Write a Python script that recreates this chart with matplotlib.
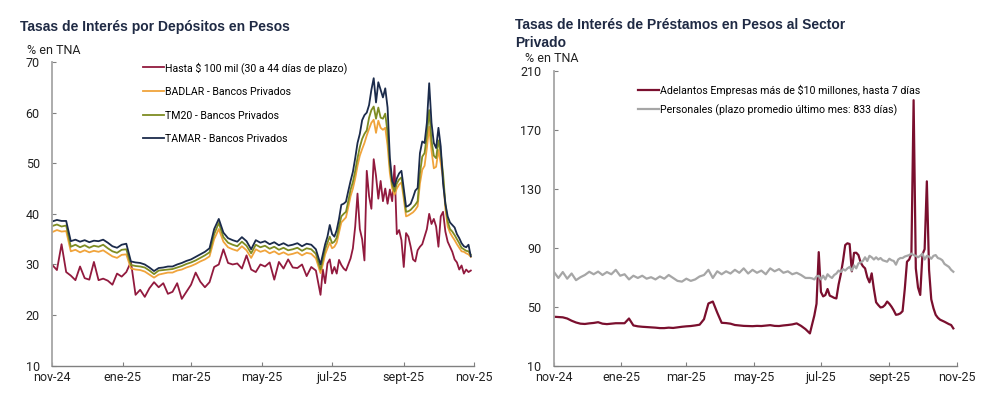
"""Tasas de interés en pesos: depósitos y préstamos al sector privado."""

import matplotlib
matplotlib.use("Agg")
import matplotlib.pyplot as plt
import pandas as pd

plt.rcParams["font.family"] = ["Roboto", "DejaVu Sans"]

# fechas: cada 4 días hasta mediados de junio, luego cada 2 días
DATES = pd.date_range("2024-11-01", periods=58, freq="4D").append(
    pd.date_range("2025-06-21", "2025-10-29", freq="2D")
)

TICK_DATES = pd.to_datetime(
    ["2024-11-01", "2025-01-01", "2025-03-01", "2025-05-01",
     "2025-07-01", "2025-09-01", "2025-11-01"]
)
TICK_LABELS = ["nov-24", "ene-25", "mar-25", "may-25", "jul-25", "sept-25", "nov-25"]

# --- depósitos (% TNA) ---
HASTA_100 = [
    29.9, 28.9, 34.0, 28.5, 27.8, 26.9, 29.6, 27.3, 27.0, 30.5,
    26.9, 27.2, 26.8, 26.0, 28.2, 27.6, 28.5, 30.5, 24.0, 25.0,
    23.6, 25.3, 26.5, 25.5, 26.3, 24.2, 24.6, 26.3, 23.2, 24.6,
    26.0, 28.4, 26.6, 25.5, 26.5, 29.5, 30.0, 33.0, 30.3, 30.0,
    30.2, 29.2, 31.8, 29.0, 28.5, 30.0, 29.6, 30.4, 27.0, 30.5,
    29.2, 31.0, 29.4, 29.3, 30.0, 27.7, 29.5, 28.8,
    24.0, 29.0, 26.3, 30.2, 31.0, 28.2, 29.5, 28.2, 30.9, 29.9,
    29.2, 28.8, 30.0, 31.2, 33.2, 37.5, 44.0, 37.0, 35.0, 30.8,
    48.5, 43.5, 41.0, 50.8, 47.5, 43.0, 46.5, 42.5, 45.0, 42.0,
    44.8, 42.5, 49.5, 36.0, 36.8, 34.8, 29.5, 36.2, 35.5, 33.5,
    31.0, 30.6, 32.8, 33.5, 34.0, 35.5, 37.0, 40.0, 38.0, 39.0,
    37.5, 33.5, 39.5, 40.4, 36.5, 34.5, 33.5, 32.5, 31.0, 30.4,
    29.0, 29.8, 28.2, 29.0, 28.5, 28.8,
]
BADLAR = [
    36.4, 36.8, 36.5, 36.6, 32.6, 32.9, 32.4, 32.8, 32.4, 32.7,
    32.5, 32.8, 32.2, 31.6, 31.3, 31.9, 32.0, 29.2, 29.0, 28.9,
    28.6, 28.0, 27.4, 28.0, 28.2, 28.4, 28.4, 28.8, 29.0, 29.4,
    29.7, 30.1, 30.6, 31.0, 31.6, 35.0, 37.0, 34.5, 33.4, 33.0,
    32.7, 33.6, 32.8, 31.3, 33.0, 32.5, 32.8, 32.2, 32.6, 32.0,
    32.4, 31.9, 32.1, 32.4, 31.8, 32.3, 32.1, 31.2,
    28.3, 30.0, 32.0, 33.2, 34.3, 33.2, 33.5, 34.3, 36.3, 38.3,
    38.8, 39.3, 41.3, 43.5, 45.0, 47.0, 49.5, 51.5, 52.8, 54.0,
    55.5, 56.8, 58.0, 58.6, 56.0, 58.4, 57.0, 56.6, 57.0, 53.5,
    48.0, 45.0, 43.8, 45.0, 45.8, 46.2, 43.0, 39.5, 39.7, 40.0,
    40.3, 40.8, 41.5, 46.0, 48.7, 49.5, 53.0, 57.2, 52.5, 49.0,
    49.3, 52.6, 50.0, 47.0, 41.0, 37.5, 36.3, 35.5, 34.8, 34.0,
    33.3, 32.6, 32.5, 32.2, 32.0, 31.5,
]
TM20 = [
    37.6, 37.9, 37.5, 37.7, 33.5, 33.9, 33.4, 33.8, 33.3, 33.7,
    33.5, 33.9, 33.2, 32.6, 32.3, 32.9, 33.0, 29.9, 29.7, 29.6,
    29.4, 28.8, 28.1, 28.8, 28.9, 29.0, 29.1, 29.4, 29.7, 30.1,
    30.4, 30.8, 31.3, 31.8, 32.4, 36.0, 38.2, 35.4, 34.3, 33.9,
    33.6, 34.5, 33.7, 32.2, 33.9, 33.4, 33.7, 33.1, 33.5, 32.9,
    33.3, 32.8, 33.0, 33.3, 32.7, 33.2, 33.0, 32.1,
    29.0, 31.0, 33.0, 34.3, 35.5, 34.2, 34.5, 35.3, 37.5, 39.5,
    40.0, 40.4, 42.5, 44.8, 46.3, 48.5, 51.0, 53.2, 54.8, 55.8,
    56.5, 59.0, 60.5, 61.2, 58.8, 61.0, 59.0, 58.8, 59.8, 56.0,
    49.5, 45.8, 44.4, 46.0, 46.8, 47.2, 44.0, 40.4, 40.5, 40.8,
    41.3, 41.8, 42.5, 48.0, 51.3, 52.0, 55.5, 60.5, 54.5, 51.5,
    51.0, 54.5, 52.0, 48.0, 42.0, 38.5, 37.0, 36.5, 35.8, 35.0,
    34.2, 33.3, 33.0, 32.7, 32.6, 31.9,
]
TAMAR = [
    38.5, 38.8, 38.6, 38.6, 34.6, 34.9, 34.5, 34.8, 34.4, 34.7,
    34.6, 34.9, 34.3, 33.6, 33.3, 33.9, 34.1, 30.6, 30.4, 30.3,
    30.0, 29.4, 28.7, 29.3, 29.4, 29.6, 29.6, 30.0, 30.3, 30.7,
    31.0, 31.5, 32.0, 32.5, 33.2, 37.0, 39.0, 36.3, 35.2, 34.8,
    34.5, 35.4, 34.6, 33.0, 34.8, 34.3, 34.6, 34.0, 34.4, 33.8,
    34.2, 33.7, 33.9, 34.2, 33.6, 34.1, 33.9, 33.0,
    30.0, 32.0, 34.0, 35.5, 37.8, 36.0, 35.5, 36.8, 39.0, 41.8,
    42.0, 42.4, 44.5, 46.5, 48.3, 51.0, 54.0, 55.8, 58.5, 59.5,
    60.0, 61.5, 64.5, 66.8, 62.0, 66.0, 64.5, 63.0, 64.8, 61.0,
    51.0, 46.5, 45.4, 47.0, 48.0, 48.5, 45.0, 41.4, 41.6, 42.0,
    43.2, 44.6, 45.1, 52.0, 54.3, 54.0, 58.0, 65.8, 58.0, 54.0,
    53.0, 57.0, 53.3, 46.0, 42.0, 39.5, 38.3, 37.8, 37.3, 36.0,
    35.2, 34.2, 33.6, 33.4, 33.9, 31.6,
]

# --- préstamos (% TNA) ---
ADELANTOS = [
    43.2, 43.0, 42.8, 42.0, 40.5, 39.3, 38.5, 38.3, 38.7, 39.0,
    39.5, 38.5, 38.2, 38.5, 38.8, 38.8, 38.8, 42.0, 37.3, 36.7,
    36.4, 36.2, 36.0, 35.8, 35.5, 35.5, 35.8, 35.6, 36.0, 36.4,
    36.7, 36.9, 37.3, 37.8, 41.5, 52.2, 53.5, 46.0, 39.1, 38.9,
    38.5, 37.6, 37.3, 37.0, 36.9, 36.8, 37.0, 36.9, 37.2, 37.5,
    37.0, 36.9, 37.3, 37.6, 38.0, 38.7, 37.0, 34.8,
    31.9, 38.0, 44.0, 52.0, 87.0, 60.0, 57.0, 57.9, 62.0, 57.5,
    56.8, 56.0, 55.6, 65.0, 72.0, 81.0, 91.8, 93.0, 92.5, 74.0,
    86.5, 86.6, 85.0, 80.0, 77.5, 76.0, 70.0, 66.5, 72.6, 62.0,
    53.0, 51.1, 49.5, 49.8, 51.1, 53.5, 52.0, 50.0, 47.5, 44.5,
    44.8, 45.5, 47.0, 62.0, 80.5, 82.0, 86.0, 190.0, 76.0, 63.0,
    58.0, 85.5, 89.0, 135.0, 75.0, 55.0, 49.0, 44.5, 42.5, 41.2,
    40.5, 39.8, 39.0, 38.2, 37.6, 35.3,
]
PERSONALES = [
    73.5, 69.5, 73.5, 69.0, 72.5, 68.0, 70.0, 71.5, 73.7, 72.0,
    73.8, 71.5, 73.5, 72.0, 75.0, 71.0, 72.0, 68.5, 71.0, 69.5,
    71.0, 69.0, 70.0, 68.5, 70.5, 69.0, 71.5, 69.5, 67.5, 67.0,
    69.0, 67.5, 68.5, 70.5, 71.5, 75.0, 69.5, 74.0, 72.0, 74.0,
    72.5, 75.0, 73.0, 76.0, 72.5, 75.0, 73.0, 74.5, 72.0, 76.0,
    74.0, 75.5, 73.0, 74.0, 72.0, 73.0, 71.5, 69.5,
    69.5, 69.2, 68.5, 70.5, 71.0, 68.5, 71.0, 68.5, 72.0, 70.5,
    69.5, 71.5, 72.5, 74.5, 73.5, 75.5, 74.5, 76.0, 77.0, 74.5,
    78.0, 76.0, 79.4, 80.0, 81.0, 83.5, 81.0, 84.5, 83.5, 82.0,
    83.5, 82.0, 83.0, 81.5, 81.0, 80.5, 82.5, 81.5, 81.0, 78.5,
    82.0, 83.0, 83.0, 84.0, 84.5, 85.0, 86.0, 85.0, 84.5, 83.5,
    84.5, 86.0, 82.0, 84.5, 84.0, 82.5, 84.5, 85.0, 83.0, 82.5,
    81.5, 79.0, 78.0, 77.0, 75.0, 73.7,
]

TITLE_COLOR = "#1F2A44"
TEXT_COLOR = "#222222"


def style_axis(ax, yticks):
    for side in ("top", "right"):
        ax.spines[side].set_visible(False)
    ax.spines["left"].set_color("#A6A6A6")
    ax.spines["left"].set_linewidth(1.3)
    ax.spines["bottom"].set_color("#808080")
    ax.spines["bottom"].set_linewidth(1.0)
    ax.set_xlim(TICK_DATES[0], TICK_DATES[-1])
    ax.set_xticks(TICK_DATES, TICK_LABELS)
    ax.set_ylim(yticks[0], yticks[-1])
    ax.set_yticks(yticks)
    ax.tick_params(direction="in", length=3, color="#808080",
                   labelsize=9, labelcolor=TEXT_COLOR)
    ax.tick_params(axis="y", pad=9)
    ax.tick_params(axis="x", pad=4)


def main() -> None:
    fig = plt.figure(figsize=(9.85, 4.13), dpi=100)

    # panel izquierdo: depósitos
    ax1 = fig.add_axes([0.0531, 0.1145, 0.4284, 0.7354])
    ax1.plot(DATES, HASTA_100, color="#921A3E", lw=1.3,
             label="Hasta $ 100 mil (30 a 44 días de plazo)")
    ax1.plot(DATES, BADLAR, color="#F0A43C", lw=1.3,
             label="BADLAR - Bancos Privados")
    ax1.plot(DATES, TM20, color="#7E8C22", lw=1.3,
             label="TM20 - Bancos Privados")
    ax1.plot(DATES, TAMAR, color="#1B2B4B", lw=1.3,
             label="TAMAR - Bancos Privados")
    style_axis(ax1, [10, 20, 30, 40, 50, 60, 70])
    ax1.legend(loc="upper left", bbox_to_anchor=(0.215, 1.0), frameon=False,
               fontsize=7.6, handlelength=1.95, handletextpad=0.1,
               labelspacing=1.27, borderpad=0, borderaxespad=0)

    # panel derecho: préstamos
    ax2 = fig.add_axes([0.5624, 0.1145, 0.4088, 0.7143])
    ax2.plot(DATES, ADELANTOS, color="#7A0F2E", lw=1.6,
             label="Adelantos Empresas más de $10 millones, hasta 7 días")
    ax2.plot(DATES, PERSONALES, color="#A6A6A6", lw=1.6,
             label="Personales (plazo promedio último mes: 833 días)")
    style_axis(ax2, [10, 50, 90, 130, 170, 210])
    ax2.legend(loc="upper left", bbox_to_anchor=(0.209, 0.953), frameon=False,
               fontsize=7.7, handlelength=1.95, handletextpad=0.1,
               labelspacing=0.78, borderpad=0, borderaxespad=0)

    fig.text(20 / 985, 1 - 20 / 413, "Tasas de Interés por Depósitos en Pesos",
             ha="left", va="top", fontsize=10, fontweight="bold",
             family=["Liberation Sans", "DejaVu Sans"], color=TITLE_COLOR)
    fig.text(515 / 985, 1 - 18 / 413,
             "Tasas de Interés de Préstamos en Pesos al Sector\nPrivado",
             ha="left", va="top", fontsize=10, fontweight="bold",
             family=["Liberation Sans", "DejaVu Sans"], color=TITLE_COLOR,
             linespacing=1.4)
    fig.text(27 / 985, 1 - 50 / 413, "% en TNA", ha="left", va="center",
             fontsize=9, color=TEXT_COLOR)
    fig.text(525 / 985, 1 - 58 / 413, "% en TNA", ha="left", va="center",
             fontsize=9, color=TEXT_COLOR)

    fig.savefig("out.png", dpi=100)
    plt.close(fig)


if __name__ == "__main__":
    main()
